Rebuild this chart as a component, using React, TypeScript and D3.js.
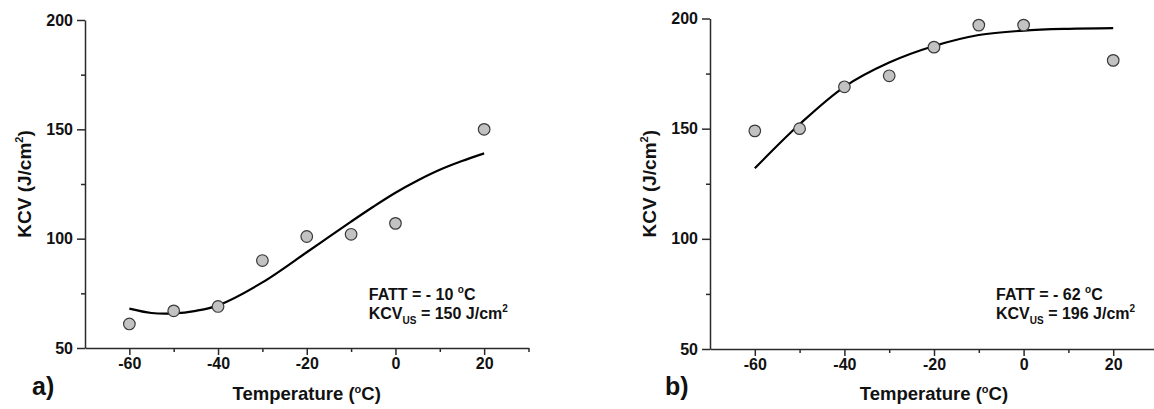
import React, { useRef, useEffect } from 'react';
import { select, scaleLinear, axisBottom, axisLeft, line, curveCatmullRom } from 'd3';

// measured points (°C, J/cm²)
const temps = [-60, -50, -40, -30, -20, -10, 0, 20];
const kcvA = [61, 67, 69, 90, 101, 102, 107, 150];
const kcvB = [149, 150, 169, 174, 187, 197, 197, 181];

// fitted curves
const fitTempsA = [-60, -55, -50, -45, -40, -30, -20, -15, -10, -5, 0, 5, 10, 15, 20];
const fitA = [68, 66, 65.8, 67, 69.5, 80, 93.8, 100.8, 107.8, 114.6, 121, 126.6, 131.5, 135.5, 139];
const fitTempsB = [-60, -50, -40, -30, -20, -10, 0, 10, 20];
const fitB = [132, 152, 169, 180, 187.5, 192.5, 194.5, 195.3, 195.6];

const xTicks = [-60, -40, -20, 0, 20];
const xMinor = [-50, -30, -10, 10, 30];
const yTicks = [50, 100, 150, 200];
const yMinor = [75, 125, 175];

const FONT = '"Liberation Sans", Arial, sans-serif';
const AXIS = '#2a2a2a';

function Panel({ x0, x1, y0, y1, data, fitT, fit, label, labelX, fatt, kcvUs }) {
    const gRef = useRef();

    const xScale = scaleLinear().domain([-70, 30]).range([x0, x1]);
    const yScale = scaleLinear().domain([50, 200]).range([y0, y1]);

    useEffect(() => {
        const g = select(gRef.current);
        g.selectAll('*').remove();

        // minor ticks first so majors sit on top
        g.append('g')
            .attr('transform', `translate(0,${y0})`)
            .call(axisBottom(xScale).tickValues(xMinor).tickSize(4).tickSizeOuter(0).tickFormat(() => ''))
            .call((a) => a.select('.domain').remove());
        g.append('g')
            .attr('transform', `translate(${x0},0)`)
            .call(axisLeft(yScale).tickValues(yMinor).tickSize(4).tickSizeOuter(0).tickFormat(() => ''))
            .call((a) => a.select('.domain').remove());

        g.append('g')
            .attr('transform', `translate(0,${y0})`)
            .call(axisBottom(xScale).tickValues(xTicks).tickSize(7).tickPadding(3).tickSizeOuter(0)
                .tickFormat((d) => String(d)));
        g.append('g')
            .attr('transform', `translate(${x0},0)`)
            .call(axisLeft(yScale).tickValues(yTicks).tickSize(8).tickPadding(4).tickSizeOuter(0)
                .tickFormat((d) => String(d)));

        g.selectAll('.domain, .tick line')
            .attr('stroke', AXIS)
            .attr('stroke-width', 1.5);
        g.selectAll('.tick text')
            .attr('fill', '#111')
            .style('font-family', FONT)
            .style('font-size', '16px')
            .style('font-weight', 'bold');

        const fitLine = line()
            .x((d) => xScale(d[0]))
            .y((d) => yScale(d[1]))
            .curve(curveCatmullRom);

        g.append('path')
            .datum(fitT.map((t, i) => [t, fit[i]]))
            .attr('d', fitLine)
            .attr('fill', 'none')
            .attr('stroke', '#000')
            .attr('stroke-width', 2.2);

        g.selectAll('.pt')
            .data(temps.map((t, i) => [t, data[i]]))
            .join('circle')
            .attr('class', 'pt')
            .attr('cx', (d) => xScale(d[0]))
            .attr('cy', (d) => yScale(d[1]))
            .attr('r', 5.8)
            .attr('fill', '#c2c2c2')
            .attr('stroke', '#3a3a3a')
            .attr('stroke-width', 1.2);
    }, [data]);

    const midX = (x0 + x1) / 2;
    const midY = (y0 + y1) / 2;
    const ax = xScale(-20) + 62;

    return (
        <g fontFamily={FONT} fill="#111">
            <g ref={gRef}></g>
            <text x={midX} y={400} textAnchor="middle" fontSize={18.5} fontWeight="bold">
                Temperature (<tspan fontSize={11} dy={-7}>o</tspan><tspan dy={7}>C)</tspan>
            </text>
            <text transform={`translate(${x0 - 54},${midY}) rotate(-90)`} textAnchor="middle" fontSize={19} fontWeight="bold">
                KCV (J/cm<tspan fontSize={11} dy={-8}>2</tspan><tspan dy={8}>)</tspan>
            </text>
            <text x={labelX} y={395} fontSize={25} fontWeight="bold">{label}</text>
            <text x={ax} y={300} fontSize={16} fontWeight="bold">
                FATT = - {fatt} <tspan fontSize={10} dy={-7}>o</tspan><tspan dy={7}>C</tspan>
            </text>
            <text x={ax} y={319} fontSize={16} fontWeight="bold">
                KCV<tspan fontSize={10} dy={5}>US</tspan><tspan dy={-5}> = {kcvUs} J/cm</tspan><tspan fontSize={10} dy={-7}>2</tspan>
            </text>
        </g>
    );
}

export default function App() {
    return (
        <svg width={1154} height={409} style={{ position: 'absolute', left: 0, top: 0, background: '#fff' }}>
            <rect width={1154} height={409} fill="#fff" />
            <Panel x0={85} x1={528.5} y0={348} y1={20} data={kcvA} fitT={fitTempsA} fit={fitA}
                label="a)" labelX={32} fatt={10} kcvUs={150} />
            <Panel x0={710} x1={1158} y0={349} y1={18.5} data={kcvB} fitT={fitTempsB} fit={fitB}
                label="b)" labelX={665} fatt={62} kcvUs={196} />
        </svg>
    );
}
